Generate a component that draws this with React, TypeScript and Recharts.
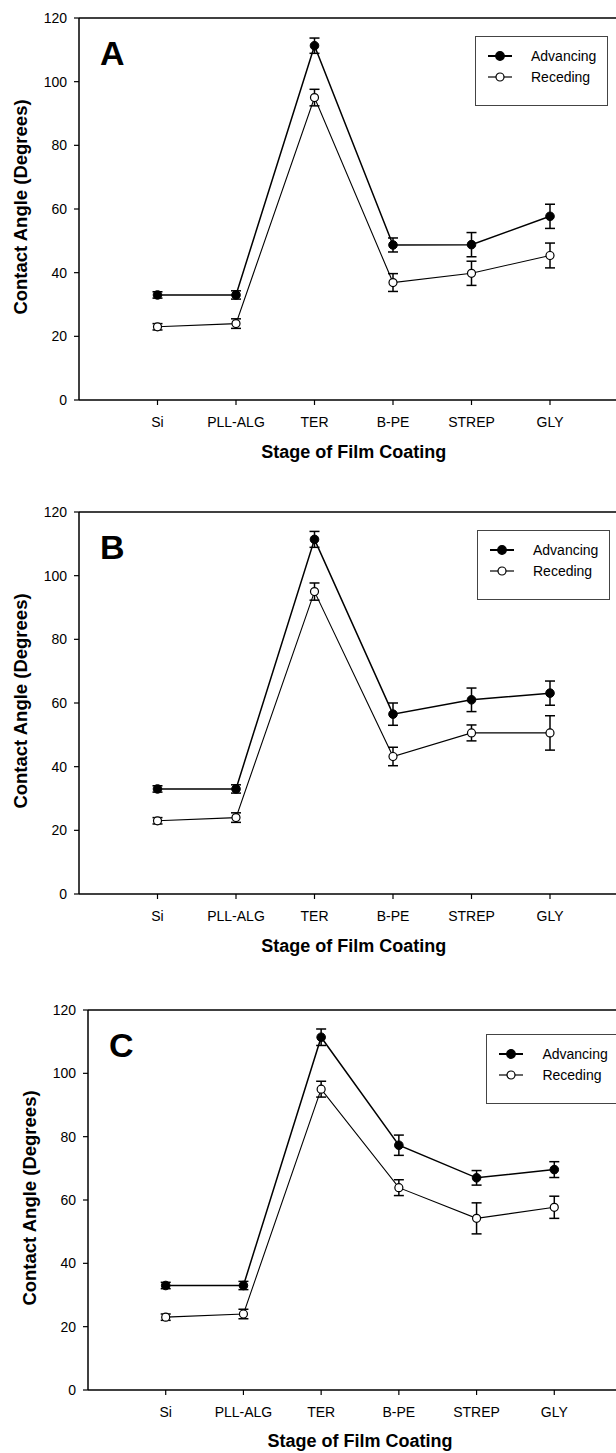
import { LineChart, Line, XAxis, YAxis, ErrorBar, ReferenceLine, Legend } from 'recharts';

const STAGES = ['Si', 'PLL-ALG', 'TER', 'B-PE', 'STREP', 'GLY'];
const Y_TICKS = [0, 20, 40, 60, 80, 100, 120];

// panel A
const A_ADV = [33, 33, 111.3, 48.7, 48.8, 57.7];
const A_ADV_ERR = [1, 1.3, 2.4, 2.2, 3.8, 3.8];
const A_REC = [23, 24, 95, 36.9, 39.8, 45.4];
const A_REC_ERR = [1, 1.5, 2.6, 2.8, 3.8, 3.9];

// panel B
const B_ADV = [33, 33, 111.4, 56.5, 61, 63.1];
const B_ADV_ERR = [1, 1.3, 2.5, 3.5, 3.7, 3.8];
const B_REC = [23, 24, 95, 43.2, 50.6, 50.6];
const B_REC_ERR = [1, 1.5, 2.7, 2.9, 2.5, 5.4];

// panel C
const C_ADV = [33, 33, 111.4, 77.3, 67, 69.6];
const C_ADV_ERR = [1, 1.3, 2.6, 3.2, 2.3, 2.5];
const C_REC = [23, 24, 95, 63.9, 54.2, 57.7];
const C_REC_ERR = [1, 1.5, 2.5, 2.5, 4.9, 3.5];

const FONT = '"Liberation Sans", Arial, Helvetica, sans-serif';

function buildRows(adv: number[], advErr: number[], rec: number[], recErr: number[]) {
  return STAGES.map((stage, i) => ({
    stage,
    adv: adv[i],
    advErr: advErr[i],
    rec: rec[i],
    recErr: recErr[i],
  }));
}

function LegendBox({ payload }: any) {
  const items = (payload || []).slice().sort((a: any) => (a.dataKey === 'adv' ? -1 : 1));
  return (
    <div
      style={{
        border: '1px solid #444',
        background: '#fff',
        width: 131,
        height: 59,
        boxSizing: 'content-box',
        fontFamily: FONT,
        fontSize: 14,
        color: '#000',
        paddingTop: 9,
      }}
    >
      {items.map((item: any) => {
        const filled = item.dataKey === 'adv';
        return (
          <div key={item.dataKey} style={{ display: 'flex', alignItems: 'center', height: 20.5 }}>
            <svg width={55} height={14} style={{ flex: 'none' }}>
              <line x1={12} y1={7} x2={36} y2={7} stroke="#000" strokeWidth={filled ? 2 : 1.2} />
              <circle cx={24} cy={7} r={filled ? 4.3 : 4} fill={filled ? '#000' : '#fff'} stroke="#000" strokeWidth={1.2} />
            </svg>
            <span>{item.value}</span>
          </div>
        );
      })}
    </div>
  );
}

interface PanelProps {
  letter: string;
  data: ReturnType<typeof buildRows>;
  top: number;
  left: number;
  plotWidth: number;
  plotHeight: number;
  legendLeft: number;
  legendTop: number;
  titleOffset: number;
}

function Panel({ letter, data, top, left, plotWidth, plotHeight, legendLeft, legendTop, titleOffset }: PanelProps) {
  const axisW = 79;
  const mTop = 18;
  const xAxisH = 70;
  const width = axisW + plotWidth + 12;
  const height = mTop + plotHeight + xAxisH;
  const pad = plotWidth / 7;
  const cy = mTop + plotHeight / 2 - 2;

  return (
    <div style={{ position: 'absolute', top, left }}>
      <LineChart width={width} height={height} data={data} margin={{ top: mTop, right: 12, bottom: 0, left: 0 }}>
        <XAxis
          dataKey="stage"
          height={xAxisH}
          padding={{ left: pad, right: pad }}
          tickSize={5}
          tickMargin={12}
          axisLine={{ stroke: '#000', strokeWidth: 1.5 }}
          tickLine={{ stroke: '#000', strokeWidth: 1.2 }}
          tick={{ fill: '#000', fontSize: 14, fontFamily: FONT }}
          label={{
            value: 'Stage of Film Coating',
            position: 'insideBottom',
            offset: titleOffset,
            fill: '#000',
            fontSize: 18,
            fontWeight: 'bold',
            fontFamily: FONT,
          }}
        />
        <YAxis
          width={axisW}
          domain={[0, 120]}
          ticks={Y_TICKS}
          interval={0}
          tickSize={5}
          tickMargin={7}
          axisLine={{ stroke: '#000', strokeWidth: 1.5 }}
          tickLine={{ stroke: '#000', strokeWidth: 1.2 }}
          tick={{ fill: '#000', fontSize: 14, fontFamily: FONT }}
        />
        <ReferenceLine y={120} stroke="#000" strokeWidth={1.5} />
        <Line
          dataKey="rec"
          name="Receding"
          stroke="#000"
          strokeWidth={1.1}
          dot={{ r: 4, fill: '#fff', stroke: '#000', strokeWidth: 1.2 }}
          activeDot={false}
          isAnimationActive={false}
        >
          <ErrorBar dataKey="recErr" direction="y" width={5} stroke="#000" strokeWidth={1.5} isAnimationActive={false} />
        </Line>
        <Line
          dataKey="adv"
          name="Advancing"
          stroke="#000"
          strokeWidth={1.5}
          dot={{ r: 4.3, fill: '#000', stroke: '#000', strokeWidth: 1 }}
          activeDot={false}
          isAnimationActive={false}
        >
          <ErrorBar dataKey="advErr" direction="y" width={5} stroke="#000" strokeWidth={1.5} isAnimationActive={false} />
        </Line>
        <Legend
          layout="vertical"
          align="center"
          verticalAlign="middle"
          content={<LegendBox />}
          wrapperStyle={{ left: legendLeft, top: legendTop, width: 133, height: 61 }}
        />
        <text x={axisW + 21} y={mTop + 47} fontSize={34} fontWeight="bold" fontFamily={FONT} fill="#000">
          {letter}
        </text>
        <text
          x={26.5}
          y={cy}
          transform={`rotate(-90, 26.5, ${cy})`}
          textAnchor="middle"
          fontSize={18.5}
          fontWeight="bold"
          fontFamily={FONT}
          fill="#000"
        >
          Contact Angle (Degrees)
        </text>
      </LineChart>
    </div>
  );
}

export default function App() {
  return (
    <div
      style={{
        position: 'absolute',
        left: 0,
        top: 0,
        width: 616,
        height: 1453,
        overflow: 'hidden',
        background: '#fff',
      }}
    >
      <Panel
        letter="A"
        data={buildRows(A_ADV, A_ADV_ERR, A_REC, A_REC_ERR)}
        top={0}
        left={0}
        plotWidth={549.5}
        plotHeight={382}
        legendLeft={475}
        legendTop={36}
        titleOffset={12}
      />
      <Panel
        letter="B"
        data={buildRows(B_ADV, B_ADV_ERR, B_REC, B_REC_ERR)}
        top={494}
        left={0}
        plotWidth={549.5}
        plotHeight={382}
        legendLeft={477}
        legendTop={36}
        titleOffset={12}
      />
      <Panel
        letter="C"
        data={buildRows(C_ADV, C_ADV_ERR, C_REC, C_REC_ERR)}
        top={992}
        left={9.4}
        plotWidth={544}
        plotHeight={380}
        legendLeft={477}
        legendTop={42}
        titleOffset={13}
      />
    </div>
  );
}
